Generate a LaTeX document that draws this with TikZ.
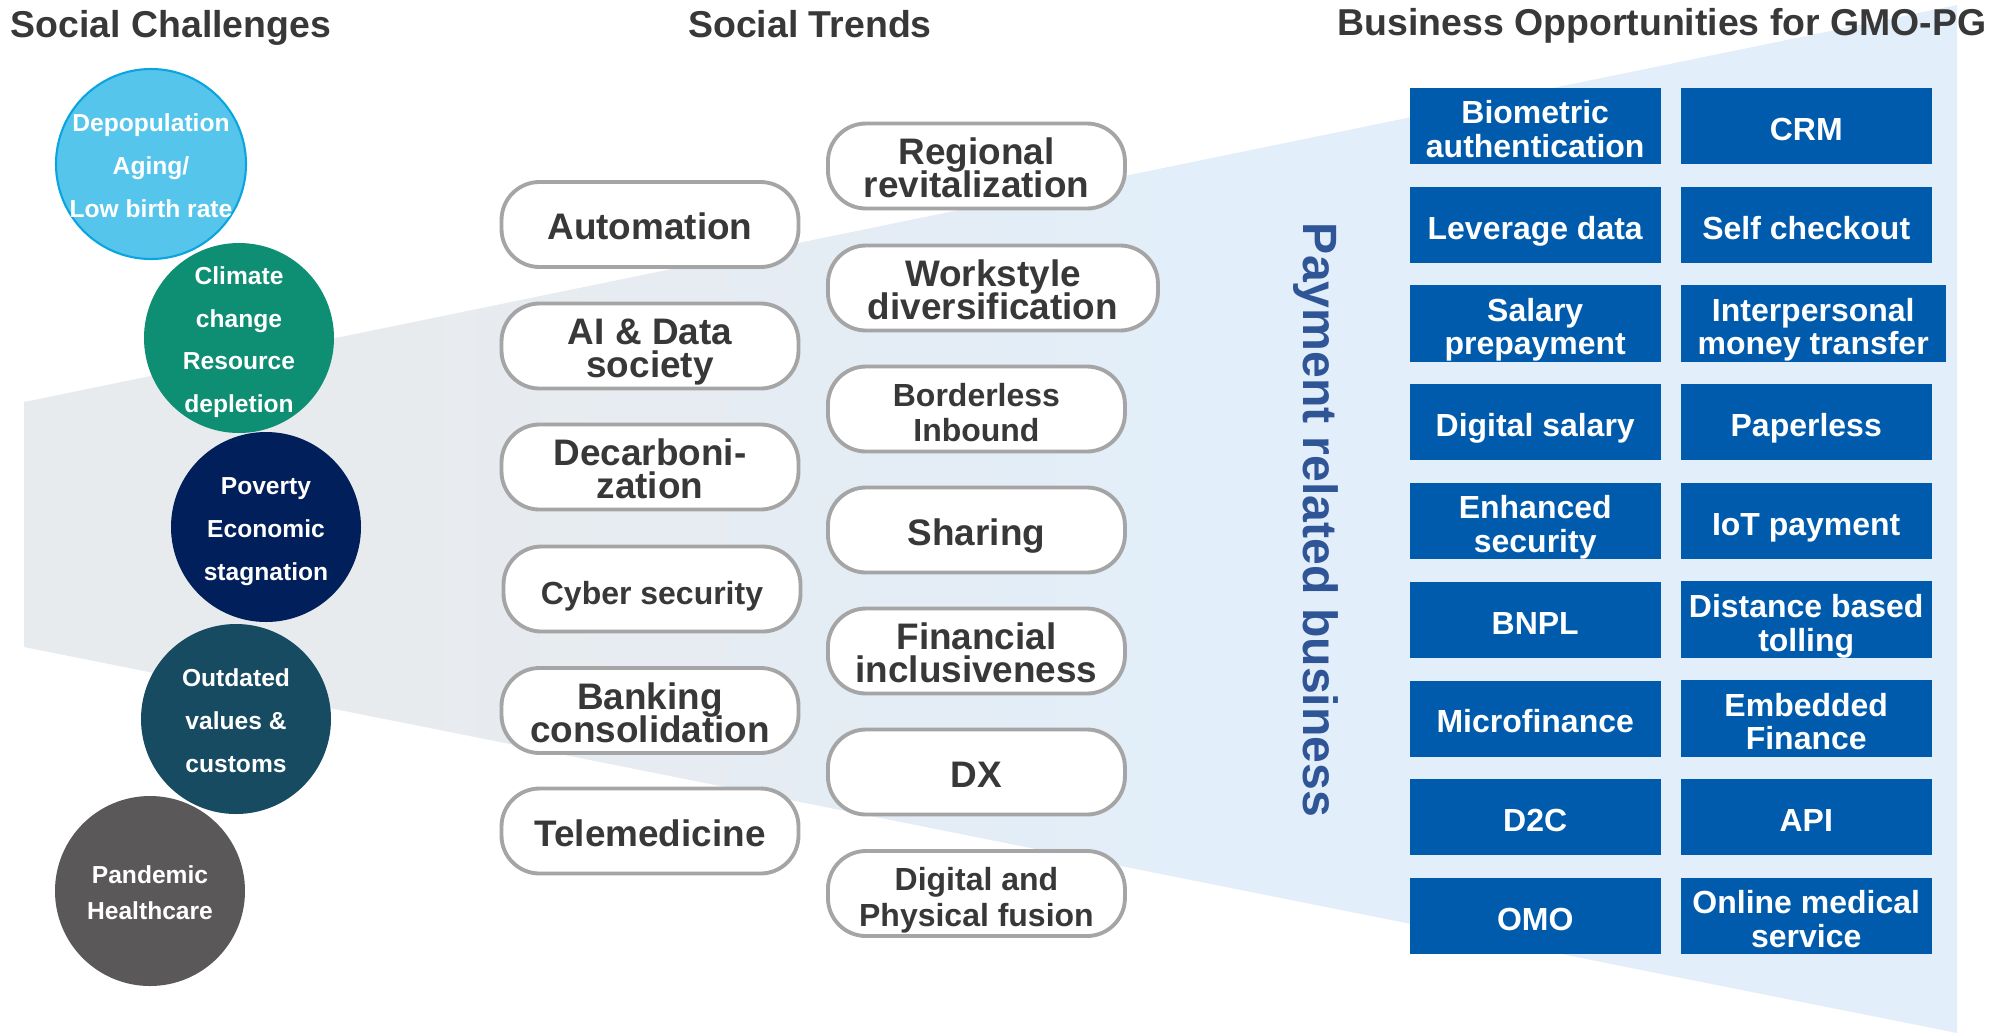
\documentclass[tikz,border=0pt]{standalone}
\usepackage{fontspec}
\setmainfont{Liberation Sans}
\usetikzlibrary{positioning}

\definecolor{fungray}{HTML}{E8EBEE}
\definecolor{funblue}{HTML}{E2EEF9}
\definecolor{fundark}{HTML}{9FC5E5}
\definecolor{inkgray}{HTML}{383838}
\definecolor{pillgray}{HTML}{A5A5A5}
\definecolor{oppblue}{HTML}{005BAC}
\definecolor{payblue}{HTML}{2F5597}
\definecolor{chcyan}{HTML}{56C5EB}
\definecolor{chcyanline}{HTML}{0AA5E1}
\definecolor{chgreen}{HTML}{0E8E72}
\definecolor{chnavy}{HTML}{011F5B}
\definecolor{chteal}{HTML}{164B62}
\definecolor{chgray}{HTML}{5A5859}

\pgfdeclarehorizontalshading{funnel}{100bp}{color(0bp)=(fungray); color(35bp)=(fungray); color(55bp)=(funblue); color(86bp)=(funblue); color(100bp)=(fundark)}

% tight lines in the labels, and a fixed line box so every label sits at the same height
\lineskiplimit=-50pt
\newcommand{\linebox}[2]{\vrule width 0pt height #1 depth #2\relax}

\begin{document}
\begin{tikzpicture}[
  title/.style={font=\bfseries\fontsize{10.65}{12}\selectfont, text=inkgray, inner sep=0pt},
  % the argument of the label styles is the number of text lines
  % (negative inner sep keeps every circle at its minimum size)
  challenge/.style={circle, minimum size=1.9cm, inner sep=-0.3cm, text=white, align=center,
    font=\bfseries\fontsize{7}{12.2}\selectfont,
    execute at begin node={\linebox{\dimexpr 7.5pt+12.2pt*\numexpr#1-1\relax\relax}{1.5pt}}},
  challenge/.default=1,
  trend/.style={draw=pillgray, line width=1.1pt, fill=white, rounded corners=0.38cm, minimum width=2.97cm, minimum height=0.85cm, inner sep=0pt, align=center, text=inkgray,
    font=\bfseries\fontsize{10.5}{9.3}\selectfont,
    execute at begin node={\linebox{\dimexpr 11.1pt+9.3pt*\numexpr#1-1\relax\relax}{2.4pt}}},
  trend/.default=1,
  trendsmall/.style={font=\bfseries\fontsize{9.1}{10}\selectfont,
    execute at begin node={\linebox{\dimexpr 10.9pt+10pt*\numexpr#1-1\relax\relax}{2.4pt}}},
  trendsmall/.default=1,
  opp/.style={fill=oppblue, minimum height=0.76cm, inner sep=0pt, align=center, text=white,
    font=\bfseries\fontsize{9.1}{9.6}\selectfont,
    execute at begin node={\linebox{\dimexpr 10.2pt+9.6pt*\numexpr#1-1\relax\relax}{2pt}}},
  opp/.default=1
]
\useasboundingbox (0,0) rectangle (20.04,-10.33);

% Funnel behind everything (gray on the left, blue towards the right)
\shade[shading=funnel] (0.24,-4.02) -- (19.57,-0.05) -- (19.57,-10.33) -- (0.24,-6.47) -- cycle;

% Column titles
\node[title, anchor=base west] (ttl-ch) at (0.10,-0.375) {Social Challenges};
\node[title, anchor=base] (ttl-tr) at (8.10,-0.375) {Social Trends};
\node[title, anchor=base] (ttl-op) at (16.62,-0.355) {Business Opportunities for GMO-PG};

% Social challenges
\node[challenge=3, fill=chcyan, draw=chcyanline, line width=0.6pt] (ch1) at (1.51,-1.64) {Depopulation\\Aging/\\Low birth rate};
\node[challenge=4, fill=chgreen] (ch2) at (2.39,-3.38) {Climate\\change\\Resource\\depletion};
\node[challenge=3, fill=chnavy] (ch3) at (2.66,-5.27) {Poverty\\Economic\\stagnation};
% this one has closer lines
\node[challenge, fill=chgray, font=\bfseries\fontsize{7}{10}\selectfont,
  execute at begin node={\linebox{17.5pt}{1.5pt}}] (ch5) at (1.50,-8.91) {Pandemic\\Healthcare};
\node[challenge=3, fill=chteal] (ch4) at (2.36,-7.19) {Outdated\\values \&\\customs};

% Social trends, left column
\node[trend] (tr-a1) at (6.50,-2.245) {Automation};
\node[trend=2] (tr-a2) at (6.50,-3.46) {AI \& Data\\society};
\node[trend=2] (tr-a3) at (6.50,-4.67) {Decarboni-\\zation};
\node[trend, trendsmall] (tr-a4) at (6.52,-5.89) {Cyber security};
\node[trend=2] (tr-a5) at (6.50,-7.105) {Banking\\consolidation};
\node[trend] (tr-a6) at (6.50,-8.31) {Telemedicine};

% Social trends, right column
\node[trend=2, anchor=west] (tr-b1) at (8.26,-1.66) {Regional\\revitalization};
\node[trend=2, anchor=west, minimum width=3.30cm] (tr-b2) at (8.26,-2.88) {Workstyle\\diversification};
\node[trend, trendsmall=2, anchor=west] (tr-b3) at (8.26,-4.09) {Borderless\\Inbound};
\node[trend, anchor=west] (tr-b4) at (8.26,-5.30) {Sharing};
\node[trend=2, anchor=west] (tr-b5) at (8.26,-6.51) {Financial\\inclusiveness};
\node[trend, anchor=west] (tr-b6) at (8.26,-7.72) {DX};
\node[trend, trendsmall=2, anchor=west] (tr-b7) at (8.26,-8.935) {Digital and\\Physical fusion};

% Side label of the opportunities
\node[font=\bfseries\fontsize{13.7}{16}\selectfont, text=payblue, rotate=-90] (paylbl) at (13.16,-5.20) {Payment related business};

% Business opportunities, first column
\foreach \txt/\n [count=\i] in {{Biometric\\authentication}/2, {Leverage data}/1, {Salary\\prepayment}/2, {Digital salary}/1, {Enhanced\\security}/2, BNPL/1, Microfinance/1, D2C/1, OMO/1} {
  \node[opp=\n, anchor=west, minimum width=2.51cm] (op1-\i) at (14.09, -1.26 - 0.9875*\i + 0.9875) {\txt};
}
% Business opportunities, second column
\foreach \txt/\n/\boxw [count=\i] in {CRM/1/2.51, {Self checkout}/1/2.51, {Interpersonal\\money transfer}/2/2.65, Paperless/1/2.51, {IoT payment}/1/2.51, {Distance based\\tolling}/2/2.51, {Embedded\\Finance}/2/2.51, API/1/2.51, {Online medical\\service}/2/2.51} {
  \node[opp=\n, anchor=west, minimum width=\boxw cm] (op2-\i) at (16.80, -1.26 - 0.9875*\i + 0.9875) {\txt};
}

\end{tikzpicture}
\end{document}
